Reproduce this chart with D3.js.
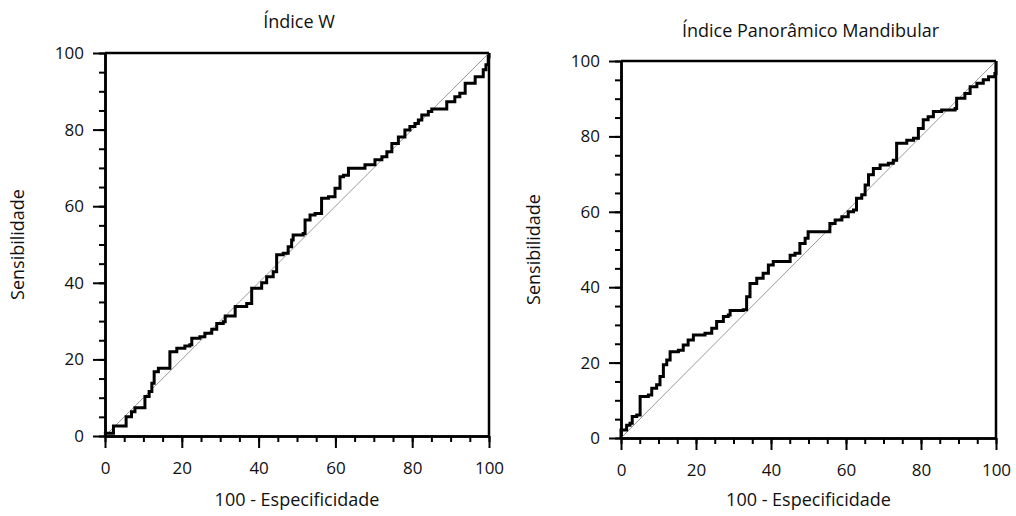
<!DOCTYPE html>
<html lang="pt">
<head>
    <meta charset="UTF-8">
    <title>Curvas ROC</title>
    <style>
        body { margin: 0; background: #fff; }
        text { font-family: "Open Sans", "Noto Sans", sans-serif; fill: #111; }
    </style>
</head>
<body>
    <svg id="chart" width="1016" height="516"></svg>

    <script src="https://cdnjs.cloudflare.com/ajax/libs/d3/7.8.5/d3.min.js"></script>
    <script>
        // Índice W: 100 - especificidade (x) / sensibilidade (y)
        const wX = [0, 0.1, 2.2, 4.3, 5.5, 6.9, 7.8, 9.5, 10.4, 11.5, 12.2, 12.8, 13.9, 16.5, 16.9, 18.7,
            20.8, 22.1, 22.6, 24.7, 26.0, 27.8, 29.1, 30.8, 31.3, 33.6, 33.9, 36.9, 38.2, 40.8, 42.1, 43.8,
            44.7, 46.4, 47.7, 48.6, 49.0, 51.6, 52.1, 53.4, 54.7, 56.4, 58.2, 59.9, 61.2, 62.1, 63.4, 66.8,
            67.7, 69.0, 70.3, 72.1, 73.4, 74.7, 76.4, 78.1, 79.4, 80.7, 81.6, 82.5, 84.2, 85.1, 88.5, 89.0,
            91.1, 92.4, 93.8, 96.4, 98.5, 99.2, 99.8, 100];
        const wY = [0, 0.7, 2.6, 2.6, 5.0, 6.3, 7.4, 7.4, 10.3, 11.6, 13.8, 16.8, 17.7, 17.7, 22.0, 22.9,
            23.5, 23.8, 25.5, 25.9, 26.8, 27.9, 29.4, 29.8, 31.3, 31.3, 33.8, 34.6, 38.6, 40.0, 41.6, 42.9,
            47.3, 47.7, 49.4, 51.2, 52.5, 52.9, 56.4, 57.7, 58.1, 62.1, 62.5, 64.7, 67.7, 68.1, 69.9, 69.9,
            70.8, 70.8, 72.1, 72.9, 74.2, 76.4, 78.1, 79.9, 80.8, 81.6, 82.5, 83.8, 84.7, 85.4, 85.4, 87.3,
            88.6, 89.5, 92.1, 93.8, 95.6, 96.9, 99.0, 100];

        // Índice Panorâmico Mandibular
        const pmX = [0, 0, 1.5, 2.4, 3.0, 4.2, 5.1, 7.3, 8.2, 9.5, 10.4, 11.3, 12.2, 13.1, 15.3, 16.6,
            17.9, 19.3, 22.4, 24.2, 25.5, 27.3, 28.6, 29.1, 32.6, 33.5, 34.4, 36.2, 37.9, 39.3, 40.6, 44.2,
            45.1, 46.4, 47.7, 49.1, 49.9, 54.9, 55.7, 57.1, 58.9, 60.6, 62.0, 62.8, 64.2, 65.1, 66.0, 67.3,
            69.1, 71.3, 72.6, 73.5, 76.2, 78.0, 79.3, 80.6, 81.9, 83.3, 85.5, 89.1, 89.5, 91.7, 93.1, 94.9,
            96.6, 98.0, 99.7, 100, 100];
        const pmY = [0, 2.1, 3.4, 3.9, 5.7, 6.1, 11.0, 11.4, 13.2, 14.1, 16.3, 19.4, 20.7, 22.9, 23.3, 24.7,
            26.0, 27.3, 27.8, 29.1, 30.9, 32.2, 32.6, 33.8, 34.0, 37.5, 41.0, 42.4, 43.7, 45.9, 46.8, 46.8,
            48.5, 49.0, 51.6, 53.0, 54.7, 54.7, 56.9, 57.8, 58.7, 60.0, 60.5, 63.6, 64.5, 67.1, 69.8, 71.5,
            72.4, 72.9, 73.7, 78.2, 79.0, 79.5, 82.1, 84.4, 85.2, 86.6, 87.0, 87.4, 90.1, 91.4, 93.2, 94.1,
            95.0, 95.8, 96.7, 96.9, 100];

        const majorTicks = [0, 20, 40, 60, 80, 100];
        const minorTicks = d3.range(0, 101, 5);
        const xTitle = '100 - Especificidade';
        const yTitle = 'Sensibilidade';

        const panels = [
            { title: 'Índice W', xs: wX, ys: wY, left: 105, right: 489, top: 53, bottom: 436, titleY: 28 },
            { title: 'Índice Panorâmico Mandibular', xs: pmX, ys: pmY, left: 621, right: 996, top: 61, bottom: 438, titleY: 37 }
        ];

        const svg = d3.select('#chart');

        panels.forEach(function (p) {
            const x = d3.scaleLinear().domain([0, 100]).range([p.left, p.right]);
            const y = d3.scaleLinear().domain([0, 100]).range([p.bottom, p.top]);
            const g = svg.append('g');

            // traços menores
            g.append('g')
                .attr('transform', 'translate(0,' + p.bottom + ')')
                .call(d3.axisBottom(x).tickValues(minorTicks).tickSize(6).tickSizeOuter(0).tickFormat(''));
            g.append('g')
                .attr('transform', 'translate(' + p.left + ',0)')
                .call(d3.axisLeft(y).tickValues(minorTicks).tickSize(6).tickSizeOuter(0).tickFormat(''));

            // traços maiores + rótulos
            g.append('g')
                .attr('transform', 'translate(0,' + p.bottom + ')')
                .call(d3.axisBottom(x).tickValues(majorTicks).tickSize(12).tickSizeOuter(0).tickPadding(14));
            g.append('g')
                .attr('transform', 'translate(' + p.left + ',0)')
                .call(d3.axisLeft(y).tickValues(majorTicks).tickSize(12).tickSizeOuter(0).tickPadding(9));

            g.selectAll('.domain').attr('stroke', '#000').attr('stroke-width', 2.5);
            g.selectAll('.tick line').attr('stroke', '#000').attr('stroke-width', 2);
            g.selectAll('.tick text')
                .style('font-family', '"Open Sans", sans-serif')
                .style('font-size', '17px')
                .attr('fill', '#111');

            // moldura superior e direita
            g.append('line')
                .attr('x1', x(0)).attr('x2', x(100))
                .attr('y1', y(100)).attr('y2', y(100))
                .attr('stroke', '#000').attr('stroke-width', 2.5);
            g.append('line')
                .attr('x1', x(100)).attr('x2', x(100))
                .attr('y1', y(0)).attr('y2', y(100))
                .attr('stroke', '#000').attr('stroke-width', 2.5);

            // diagonal de referência
            g.append('line')
                .attr('x1', x(0)).attr('y1', y(0))
                .attr('x2', x(100)).attr('y2', y(100))
                .attr('stroke', '#999').attr('stroke-width', 1);

            // curva ROC em degraus
            const pts = p.xs.map(function (v, i) { return [v, p.ys[i]]; });
            g.append('path')
                .datum(pts)
                .attr('fill', 'none')
                .attr('stroke', '#000')
                .attr('stroke-width', 3)
                .attr('stroke-linejoin', 'miter')
                .attr('d', d3.line()
                    .x(function (d) { return x(d[0]); })
                    .y(function (d) { return y(d[1]); })
                    .curve(d3.curveStepAfter));

            // títulos
            g.append('text')
                .attr('x', (p.left + p.right) / 2 + 2)
                .attr('y', p.titleY)
                .attr('text-anchor', 'middle')
                .style('font-size', '18px')
                .text(p.title);
            g.append('text')
                .attr('x', (p.left + p.right) / 2)
                .attr('y', 506)
                .attr('text-anchor', 'middle')
                .style('font-size', '18px')
                .text(xTitle);
            g.append('text')
                .attr('transform', 'translate(' + (p.left - 81) + ',' + ((p.top + p.bottom) / 2) + ') rotate(-90)')
                .attr('text-anchor', 'middle')
                .style('font-size', '18px')
                .text(yTitle);
        });
    </script>
</body>
</html>
